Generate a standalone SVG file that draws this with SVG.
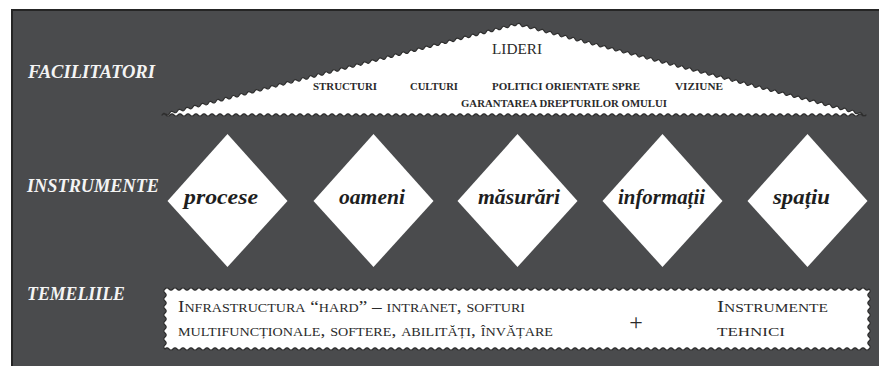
<svg xmlns="http://www.w3.org/2000/svg" width="879" height="366" viewBox="0 0 879 366">
<style>
.lbl{font-family:"Liberation Serif",serif;font-style:italic;font-weight:bold;font-size:18px;fill:#f4f4f4}
.tri{font-family:"Liberation Serif",serif;font-weight:bold;font-size:11px;fill:#2a2a2a}
.dia{font-family:"Liberation Serif",serif;font-style:italic;font-weight:bold;font-size:21px;fill:#1e1e1e}
.box{font-family:"Liberation Serif",serif;font-variant:small-caps;font-size:16.5px;fill:#2a2a2a}
.wave{fill:#ffffff;stroke:#2e2e2e;stroke-width:1.2;stroke-linejoin:round}
.dm{fill:#ffffff}
</style>
<rect x="0" y="0" width="879" height="366" fill="#ffffff"/>
<rect x="12" y="10" width="872" height="362" fill="#4a4b4d" stroke="#252525" stroke-width="2"/>

<g id="labels">
<text class="lbl" x="28" y="78" textLength="127" lengthAdjust="spacingAndGlyphs">FACILITATORI</text>
<text class="lbl" x="27" y="192" textLength="132" lengthAdjust="spacingAndGlyphs">INSTRUMENTE</text>
<text class="lbl" x="27" y="300" textLength="98" lengthAdjust="spacingAndGlyphs">TEMELIILE</text>
</g>

<g id="facilitatori">
<path class="wave" d="M162 115 q1.333 -2.82 3.859 -.989
t3.859 -.989 t3.859 -.989 t3.859 -.989 t3.859 -.989 t3.859 -.989 t3.859 -.989 t3.859 -.989 t3.859 -.989 t3.859 -.989 t3.859 -.989
t3.859 -.989 t3.859 -.989 t3.859 -.989 t3.859 -.989 t3.859 -.989 t3.859 -.989 t3.859 -.989 t3.859 -.989 t3.859 -.989 t3.859 -.989
t3.859 -.989 t3.859 -.989 t3.859 -.989 t3.859 -.989 t3.859 -.989 t3.859 -.989 t3.859 -.989 t3.859 -.989 t3.859 -.989 t3.859 -.989
t3.859 -.989 t3.859 -.989 t3.859 -.989 t3.859 -.989 t3.859 -.989 t3.859 -.989 t3.859 -.989 t3.859 -.989 t3.859 -.989 t3.859 -.989
t3.859 -.989 t3.859 -.989 t3.859 -.989 t3.859 -.989 t3.859 -.989 t3.859 -.989 t3.859 -.989 t3.859 -.989 t3.859 -.989 t3.859 -.989
t3.859 -.989 t3.859 -.989 t3.859 -.989 t3.859 -.989 t3.859 -.989 t3.859 -.989 t3.859 -.989 t3.859 -.989 t3.859 -.989 t3.859 -.989
t3.859 -.989 t3.859 -.989 t3.859 -.989 t3.859 -.989 t3.859 -.989 t3.859 -.989 t3.859 -.989 t3.859 -.989 t3.859 -.989 t3.859 -.989
t3.859 -.989 t3.859 -.989 t3.859 -.989 t3.859 -.989 t3.859 -.989 t3.859 -.989 t3.859 -.989 t3.859 -.989 t3.859 -.989 t3.859 -.989
t3.859 -.989 t3.859 -.989 t3.859 -.989 t3.859 -.989 t3.859 -.989 t3.859 -.989 t3.859 -.989 t3.859 -.989 t3.859 -.989 t3.859 -.989
t3.859 -.989
L517 24 q2.544 -1.817 3.878 1.011
t3.878 1.011 t3.878 1.011 t3.878 1.011 t3.878 1.011 t3.878 1.011 t3.878 1.011 t3.878 1.011 t3.878 1.011 t3.878 1.011 t3.878 1.011
t3.878 1.011 t3.878 1.011 t3.878 1.011 t3.878 1.011 t3.878 1.011 t3.878 1.011 t3.878 1.011 t3.878 1.011 t3.878 1.011 t3.878 1.011
t3.878 1.011 t3.878 1.011 t3.878 1.011 t3.878 1.011 t3.878 1.011 t3.878 1.011 t3.878 1.011 t3.878 1.011 t3.878 1.011 t3.878 1.011
t3.878 1.011 t3.878 1.011 t3.878 1.011 t3.878 1.011 t3.878 1.011 t3.878 1.011 t3.878 1.011 t3.878 1.011 t3.878 1.011 t3.878 1.011
t3.878 1.011 t3.878 1.011 t3.878 1.011 t3.878 1.011 t3.878 1.011 t3.878 1.011 t3.878 1.011 t3.878 1.011 t3.878 1.011 t3.878 1.011
t3.878 1.011 t3.878 1.011 t3.878 1.011 t3.878 1.011 t3.878 1.011 t3.878 1.011 t3.878 1.011 t3.878 1.011 t3.878 1.011 t3.878 1.011
t3.878 1.011 t3.878 1.011 t3.878 1.011 t3.878 1.011 t3.878 1.011 t3.878 1.011 t3.878 1.011 t3.878 1.011 t3.878 1.011 t3.878 1.011
t3.878 1.011 t3.878 1.011 t3.878 1.011 t3.878 1.011 t3.878 1.011 t3.878 1.011 t3.878 1.011 t3.878 1.011 t3.878 1.011 t3.878 1.011
t3.878 1.011 t3.878 1.011 t3.878 1.011 t3.878 1.011 t3.878 1.011 t3.878 1.011 t3.878 1.011 t3.878 1.011 t3.878 1.011
L866 115 q-2 2.4 -4 0
t-4 0 t-4 0 t-4 0 t-4 0 t-4 0 t-4 0 t-4 0 t-4 0 t-4 0 t-4 0
t-4 0 t-4 0 t-4 0 t-4 0 t-4 0 t-4 0 t-4 0 t-4 0 t-4 0 t-4 0
t-4 0 t-4 0 t-4 0 t-4 0 t-4 0 t-4 0 t-4 0 t-4 0 t-4 0 t-4 0
t-4 0 t-4 0 t-4 0 t-4 0 t-4 0 t-4 0 t-4 0 t-4 0 t-4 0 t-4 0
t-4 0 t-4 0 t-4 0 t-4 0 t-4 0 t-4 0 t-4 0 t-4 0 t-4 0 t-4 0
t-4 0 t-4 0 t-4 0 t-4 0 t-4 0 t-4 0 t-4 0 t-4 0 t-4 0 t-4 0
t-4 0 t-4 0 t-4 0 t-4 0 t-4 0 t-4 0 t-4 0 t-4 0 t-4 0 t-4 0
t-4 0 t-4 0 t-4 0 t-4 0 t-4 0 t-4 0 t-4 0 t-4 0 t-4 0 t-4 0
t-4 0 t-4 0 t-4 0 t-4 0 t-4 0 t-4 0 t-4 0 t-4 0 t-4 0 t-4 0
t-4 0 t-4 0 t-4 0 t-4 0 t-4 0 t-4 0 t-4 0 t-4 0 t-4 0 t-4 0
t-4 0 t-4 0 t-4 0 t-4 0 t-4 0 t-4 0 t-4 0 t-4 0 t-4 0 t-4 0
t-4 0 t-4 0 t-4 0 t-4 0 t-4 0 t-4 0 t-4 0 t-4 0 t-4 0 t-4 0
t-4 0 t-4 0 t-4 0 t-4 0 t-4 0 t-4 0 t-4 0 t-4 0 t-4 0 t-4 0
t-4 0 t-4 0 t-4 0 t-4 0 t-4 0 t-4 0 t-4 0 t-4 0 t-4 0 t-4 0
t-4 0 t-4 0 t-4 0 t-4 0 t-4 0 t-4 0 t-4 0 t-4 0 t-4 0 t-4 0
t-4 0 t-4 0 t-4 0 t-4 0 t-4 0 t-4 0 t-4 0 t-4 0 t-4 0 t-4 0
t-4 0 t-4 0 t-4 0 t-4 0 t-4 0 t-4 0 t-4 0 t-4 0 t-4 0 t-4 0
t-4 0 t-4 0 t-4 0 t-4 0 t-4 0 Z"/>
<text x="517" y="54" text-anchor="middle" font-family="Liberation Serif, serif" font-size="15" fill="#2a2a2a" textLength="50" lengthAdjust="spacingAndGlyphs">LIDERI</text>
<text class="tri" x="313" y="90" textLength="64" lengthAdjust="spacingAndGlyphs">STRUCTURI</text>
<text class="tri" x="410" y="90" textLength="48" lengthAdjust="spacingAndGlyphs">CULTURI</text>
<text class="tri" x="492" y="90" textLength="148" lengthAdjust="spacingAndGlyphs">POLITICI ORIENTATE SPRE</text>
<text class="tri" x="675" y="90" textLength="48" lengthAdjust="spacingAndGlyphs">VIZIUNE</text>
<text class="tri" x="461" y="107" textLength="206" lengthAdjust="spacingAndGlyphs">GARANTAREA DREPTURILOR OMULUI</text>
</g>

<g id="procese">
<polygon class="dm" points="227.5,134 287.5,201 227.5,267 167.5,201"/>
<text class="dia" x="184" y="204" textLength="74" lengthAdjust="spacingAndGlyphs">procese</text>
</g>
<g id="oameni">
<polygon class="dm" points="373.5,134 433.5,201 373.5,267 313.5,201"/>
<text class="dia" x="339" y="204" textLength="66" lengthAdjust="spacingAndGlyphs">oameni</text>
</g>
<g id="masurari">
<polygon class="dm" points="517.5,134 577.5,201 517.5,267 457.5,201"/>
<text class="dia" x="478" y="204" textLength="82" lengthAdjust="spacingAndGlyphs">măsurări</text>
</g>
<g id="informatii">
<polygon class="dm" points="662.5,134 722.5,201 662.5,267 602.5,201"/>
<text class="dia" x="618" y="204" textLength="87" lengthAdjust="spacingAndGlyphs">informații</text>
</g>
<g id="spatiu">
<polygon class="dm" points="807.5,134 867.5,201 807.5,267 747.5,201"/>
<text class="dia" x="773" y="204" textLength="57" lengthAdjust="spacingAndGlyphs">spațiu</text>
</g>

<g id="temeliile">
<path class="wave" d="M165 289 q2 -2.4 4 0
t4 0 t4 0 t4 0 t4 0 t4 0 t4 0 t4 0 t4 0 t4 0 t4 0
t4 0 t4 0 t4 0 t4 0 t4 0 t4 0 t4 0 t4 0 t4 0 t4 0
t4 0 t4 0 t4 0 t4 0 t4 0 t4 0 t4 0 t4 0 t4 0 t4 0
t4 0 t4 0 t4 0 t4 0 t4 0 t4 0 t4 0 t4 0 t4 0 t4 0
t4 0 t4 0 t4 0 t4 0 t4 0 t4 0 t4 0 t4 0 t4 0 t4 0
t4 0 t4 0 t4 0 t4 0 t4 0 t4 0 t4 0 t4 0 t4 0 t4 0
t4 0 t4 0 t4 0 t4 0 t4 0 t4 0 t4 0 t4 0 t4 0 t4 0
t4 0 t4 0 t4 0 t4 0 t4 0 t4 0 t4 0 t4 0 t4 0 t4 0
t4 0 t4 0 t4 0 t4 0 t4 0 t4 0 t4 0 t4 0 t4 0 t4 0
t4 0 t4 0 t4 0 t4 0 t4 0 t4 0 t4 0 t4 0 t4 0 t4 0
t4 0 t4 0 t4 0 t4 0 t4 0 t4 0 t4 0 t4 0 t4 0 t4 0
t4 0 t4 0 t4 0 t4 0 t4 0 t4 0 t4 0 t4 0 t4 0 t4 0
t4 0 t4 0 t4 0 t4 0 t4 0 t4 0 t4 0 t4 0 t4 0 t4 0
t4 0 t4 0 t4 0 t4 0 t4 0 t4 0 t4 0 t4 0 t4 0 t4 0
t4 0 t4 0 t4 0 t4 0 t4 0 t4 0 t4 0 t4 0 t4 0 t4 0
t4 0 t4 0 t4 0 t4 0 t4 0 t4 0 t4 0 t4 0 t4 0 t4 0
t4 0 t4 0 t4 0 t4 0 t4 0 t4 0 t4 0 t4 0 t4 0 t4 0
t4 0 t4 0 t4 0 t4 0 t4 0
L869 289 q2.4 2 0 4
t0 4 t0 4 t0 4 t0 4 t0 4 t0 4 t0 4 t0 4 t0 4 t0 4 t0 4 t0 4 t0 4 t0 4
L869 349 q-2 2.4 -4 0
t-4 0 t-4 0 t-4 0 t-4 0 t-4 0 t-4 0 t-4 0 t-4 0 t-4 0 t-4 0
t-4 0 t-4 0 t-4 0 t-4 0 t-4 0 t-4 0 t-4 0 t-4 0 t-4 0 t-4 0
t-4 0 t-4 0 t-4 0 t-4 0 t-4 0 t-4 0 t-4 0 t-4 0 t-4 0 t-4 0
t-4 0 t-4 0 t-4 0 t-4 0 t-4 0 t-4 0 t-4 0 t-4 0 t-4 0 t-4 0
t-4 0 t-4 0 t-4 0 t-4 0 t-4 0 t-4 0 t-4 0 t-4 0 t-4 0 t-4 0
t-4 0 t-4 0 t-4 0 t-4 0 t-4 0 t-4 0 t-4 0 t-4 0 t-4 0 t-4 0
t-4 0 t-4 0 t-4 0 t-4 0 t-4 0 t-4 0 t-4 0 t-4 0 t-4 0 t-4 0
t-4 0 t-4 0 t-4 0 t-4 0 t-4 0 t-4 0 t-4 0 t-4 0 t-4 0 t-4 0
t-4 0 t-4 0 t-4 0 t-4 0 t-4 0 t-4 0 t-4 0 t-4 0 t-4 0 t-4 0
t-4 0 t-4 0 t-4 0 t-4 0 t-4 0 t-4 0 t-4 0 t-4 0 t-4 0 t-4 0
t-4 0 t-4 0 t-4 0 t-4 0 t-4 0 t-4 0 t-4 0 t-4 0 t-4 0 t-4 0
t-4 0 t-4 0 t-4 0 t-4 0 t-4 0 t-4 0 t-4 0 t-4 0 t-4 0 t-4 0
t-4 0 t-4 0 t-4 0 t-4 0 t-4 0 t-4 0 t-4 0 t-4 0 t-4 0 t-4 0
t-4 0 t-4 0 t-4 0 t-4 0 t-4 0 t-4 0 t-4 0 t-4 0 t-4 0 t-4 0
t-4 0 t-4 0 t-4 0 t-4 0 t-4 0 t-4 0 t-4 0 t-4 0 t-4 0 t-4 0
t-4 0 t-4 0 t-4 0 t-4 0 t-4 0 t-4 0 t-4 0 t-4 0 t-4 0 t-4 0
t-4 0 t-4 0 t-4 0 t-4 0 t-4 0 t-4 0 t-4 0 t-4 0 t-4 0 t-4 0
t-4 0 t-4 0 t-4 0 t-4 0 t-4 0
L165 349 q-2.4 -2 0 -4
t0 -4 t0 -4 t0 -4 t0 -4 t0 -4 t0 -4 t0 -4 t0 -4 t0 -4 t0 -4 t0 -4 t0 -4 t0 -4 t0 -4 Z"/>
<text class="box" x="178" y="312" textLength="347" lengthAdjust="spacingAndGlyphs">Infrastructura “hard” – intranet, softuri</text>
<text class="box" x="178" y="336" textLength="375" lengthAdjust="spacingAndGlyphs">multifuncționale, softere, abilități, învățare</text>
<text x="636" y="330" text-anchor="middle" font-family="Liberation Serif, serif" font-size="24" fill="#2a2a2a">+</text>
<text class="box" x="717" y="312" textLength="111" lengthAdjust="spacingAndGlyphs">Instrumente</text>
<text class="box" x="717" y="336" textLength="68" lengthAdjust="spacingAndGlyphs">tehnici</text>
</g>
</svg>
